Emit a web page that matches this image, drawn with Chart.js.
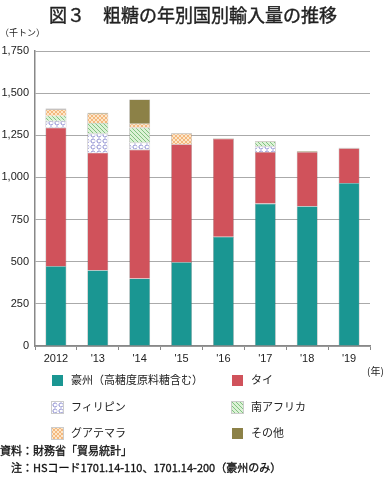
<!DOCTYPE html>
<html>
<head>
<meta charset="utf-8">
<script src="https://cdn.jsdelivr.net/npm/chart.js@4"></script>
<style>
  body { margin: 0; background: #fff; font-family: "Noto Sans CJK JP", sans-serif; color: #222; }
  #wrap { position: relative; width: 386px; height: 479px; overflow: hidden; }
  .t { position: absolute; white-space: nowrap; }
  #title { left: 0; width: 386px; top: 1px; text-align: center; font-size: 18px; -webkit-text-stroke: 0.4px #222; }
  #unit { left: 0; top: 26px; font-size: 9px; }
  #nen { left: 367px; top: 363px; font-size: 10px; }
  .sw { position: absolute; width: 11px; height: 11px; }
  .lg { position: absolute; font-size: 11px; }
  .src { left: 0; font-size: 11px; color: #111; -webkit-text-stroke: 0.3px #111; }
  #box { position: absolute; left: 0; top: 0; width: 386px; height: 372px; }
</style>
</head>
<body>
<div id="wrap">
  <div id="box"><canvas id="myChart"></canvas></div>
  <div class="t" id="title">図３　粗糖の年別国別輸入量の推移</div>
  <div class="t" id="unit">（千トン）</div>
  <div class="t" id="nen">(年)</div>
  <div id="legend"></div>
  <div class="t src" style="top:442px">資料：財務省「貿易統計」</div>
  <div class="t src" style="top:459px">　注：HSコード1701.14-110、1701.14-200（豪州のみ）</div>
</div>
<script>
const years = ["2012", "'13", "'14", "'15", "'16", "'17", "'18", "'19"];
const australia = [474, 450, 401, 498, 648, 845, 829, 967];
const thailand = [822, 697, 764, 699, 582, 306, 322, 206];
const philippines = [40, 113, 42, 0, 0, 34, 0, 0];
const southAfrica = [30, 63, 89, 0, 0, 28, 0, 0];
const guatemala = [38, 55, 23, 63, 0, 0, 0, 0];
const others = [5, 5, 144, 3, 3, 3, 5, 3];
const yTicks = [0, 250, 500, 750, 1000, 1250, 1500, 1750];

function makeTile(w, h, draw) {
    const c = document.createElement("canvas");
    c.width = w; c.height = h;
    draw(c.getContext("2d"));
    return c;
}
const philTile = makeTile(6, 6, g => {
    g.fillStyle = "#ffffff"; g.fillRect(0, 0, 6, 6);
    g.strokeStyle = "#7a7cc8"; g.lineWidth = 0.9;
    g.beginPath(); g.arc(3, 3, 2, Math.PI * 0.1, Math.PI * 1.9); g.stroke();
});
const saTile = makeTile(4, 4, g => {
    g.fillStyle = "#dcf2d6"; g.fillRect(0, 0, 4, 4);
    g.strokeStyle = "#6bb46b"; g.lineWidth = 0.8;
    g.beginPath(); g.moveTo(0, 0); g.lineTo(4, 4); g.moveTo(-1, 3); g.lineTo(1, 5); g.moveTo(3, -1); g.lineTo(5, 1); g.stroke();
});
const guatTile = makeTile(4, 4, g => {
    g.fillStyle = "#fde6c8"; g.fillRect(0, 0, 4, 4);
    g.strokeStyle = "#eea35e"; g.lineWidth = 0.7;
    g.beginPath(); g.moveTo(0, 0); g.lineTo(4, 4); g.moveTo(4, 0); g.lineTo(0, 4); g.stroke();
});
const ctx = document.getElementById("myChart").getContext("2d");
const philPat = ctx.createPattern(philTile, "repeat");
const saPat = ctx.createPattern(saTile, "repeat");
const guatPat = ctx.createPattern(guatTile, "repeat");

const series = [
    { label: "豪州（高糖度原料糖含む）", data: australia, bg: "#1a9692", css: "#1a9692" },
    { label: "タイ", data: thailand, bg: "#d0525b", css: "#d0525b" },
    { label: "フィリピン", data: philippines, bg: philPat, css: "url(" + philTile.toDataURL() + ")" },
    { label: "南アフリカ", data: southAfrica, bg: saPat, css: "url(" + saTile.toDataURL() + ")" },
    { label: "グアテマラ", data: guatemala, bg: guatPat, css: "url(" + guatTile.toDataURL() + ")" },
    { label: "その他", data: others, bg: "#8c8147", css: "#8c8147" },
];

const myChart = new Chart(ctx, {
    type: "bar",
    data: {
        labels: years,
        datasets: series.map(s => ({
            label: s.label,
            data: s.data,
            backgroundColor: s.bg,
            borderColor: "rgba(90,80,80,0.55)",
            borderWidth: 0.6,
            barPercentage: 0.5,
            categoryPercentage: 1,
        })),
    },
    options: {
        animation: false,
        responsive: true,
        maintainAspectRatio: false,
        layout: { padding: { top: 51, right: 16, left: 0, bottom: 0 } },
        plugins: {
            legend: { display: false },
            tooltip: { enabled: false },
        },
        scales: {
            x: {
                stacked: true,
                offset: true,
                grid: { offset: true, drawOnChartArea: false, drawTicks: true, tickLength: 4, color: "#888" },
                border: { color: "#888", width: 1.5 },
                ticks: { color: "#222", font: { family: "Liberation Sans", size: 11 }, padding: 2, maxRotation: 0 },
                afterFit: s => { s.height = 26; },
            },
            y: {
                stacked: true,
                min: 0,
                max: 1750,
                afterBuildTicks: s => { s.ticks = yTicks.map(v => ({ value: v })); },
                grid: { drawTicks: false, color: "#aaa", lineWidth: 1 },
                border: { color: "#888", width: 1.5 },
                ticks: {
                    color: "#222",
                    font: { family: "Liberation Sans", size: 11 },
                    padding: 6,
                    callback: v => v.toLocaleString("en-US"),
                },
                afterFit: s => { s.width = 35; },
            },
        },
    },
});

// legend, two columns
const legend = document.getElementById("legend");
series.forEach((s, i) => {
    const col = i % 2, row = Math.floor(i / 2);
    const x = col ? 232 : 52, y = 375 + row * 26.5;
    const sw = document.createElement("div");
    sw.className = "sw";
    sw.style.left = x + "px"; sw.style.top = y + "px";
    sw.style.background = s.css;
    if (i >= 2 && i <= 4) sw.style.outline = "0.5px solid #ccc";
    legend.appendChild(sw);
    const tx = document.createElement("div");
    tx.className = "lg t";
    tx.textContent = s.label;
    tx.style.left = (x + 19) + "px"; tx.style.top = (y - 4) + "px";
    legend.appendChild(tx);
});
</script>
</body>
</html>
